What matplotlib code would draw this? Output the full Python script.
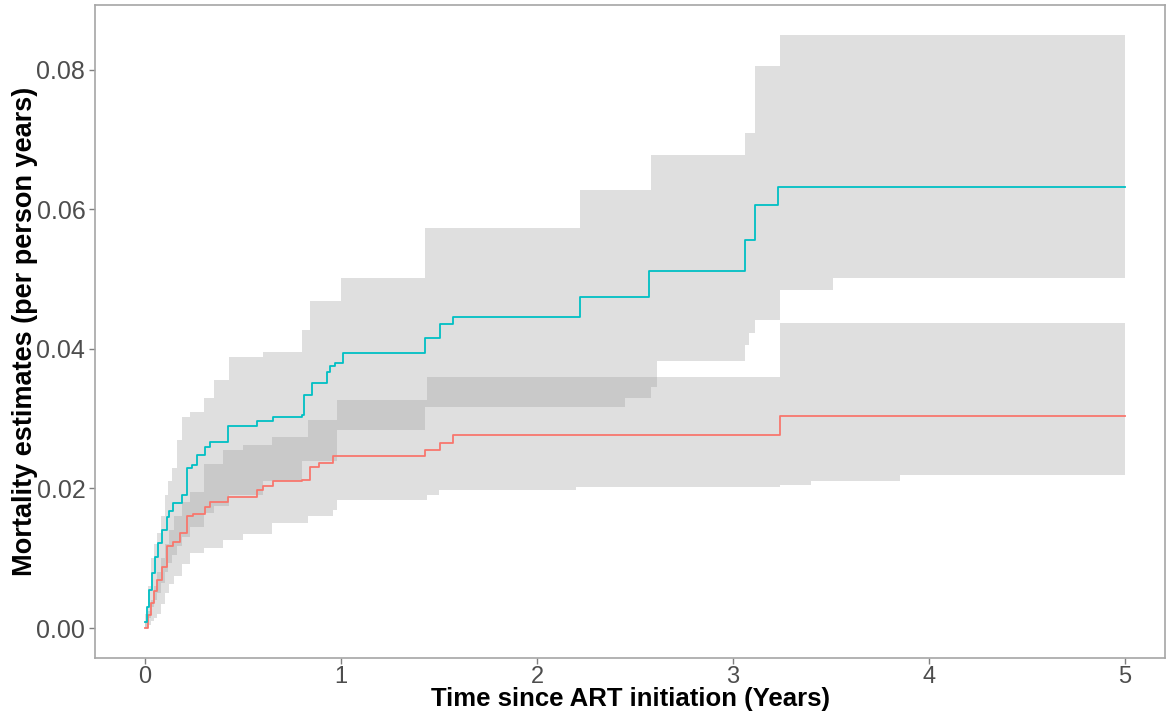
import numpy as np
import matplotlib.pyplot as plt

# Step estimates (time in years, cumulative mortality)
t_teal = [0.0, 0.01, 0.02, 0.034, 0.05, 0.066, 0.085, 0.11, 0.125, 0.143, 0.187, 0.213, 0.238, 0.264, 0.306, 0.332, 0.423,
          0.57, 0.653, 0.80, 0.81, 0.85, 0.927, 0.944, 0.97, 1.01, 1.43, 1.505, 1.573,
          2.22, 2.57, 3.06, 3.11, 3.23, 5.0]
y_teal = [0.0009, 0.003, 0.0055, 0.0079, 0.0102, 0.0122, 0.0141, 0.0159, 0.0168, 0.0179, 0.019, 0.0229, 0.0234, 0.0248, 0.026, 0.0267, 0.0289,
          0.0296, 0.0303, 0.0305, 0.0334, 0.0351, 0.0367, 0.0375, 0.038, 0.0394, 0.0415, 0.0435, 0.0446,
          0.0475, 0.0511, 0.0556, 0.0606, 0.0632, 0.0632]

t_red = [0.0, 0.015, 0.03, 0.045, 0.06, 0.085, 0.11, 0.145, 0.18, 0.213, 0.245, 0.306, 0.332, 0.423, 0.57,
         0.60, 0.653, 0.80, 0.84, 0.89, 0.96, 1.43, 1.505, 1.573, 3.24, 5.0]
y_red = [0.0, 0.0018, 0.0036, 0.0053, 0.0069, 0.0088, 0.0117, 0.0124, 0.0136, 0.016, 0.0164, 0.0174, 0.0181, 0.0188, 0.0198,
         0.0203, 0.021, 0.0212, 0.0231, 0.0236, 0.0246, 0.0255, 0.0265, 0.0276, 0.0304, 0.0304]

# Confidence bands
tb_teal = [0.00, 0.015, 0.03, 0.045, 0.06, 0.08, 0.10, 0.12, 0.14, 0.165, 0.19, 0.23, 0.30, 0.35, 0.43, 0.60, 0.80, 0.84, 0.98,
           1.00, 1.43, 2.20, 2.22, 2.45, 2.58, 2.61, 3.05, 3.06, 3.08, 3.11, 3.15, 3.24, 3.51, 5.00]
lo_teal = [0.0, 0.0015, 0.003, 0.004, 0.005, 0.0065, 0.008, 0.0093, 0.0105, 0.0118, 0.013, 0.0145, 0.0165, 0.0175, 0.019, 0.021, 0.024, 0.024, 0.0284,
           0.0284, 0.0317, 0.0317, 0.0317, 0.0329, 0.0346, 0.0382, 0.0382, 0.0406, 0.0423, 0.0442, 0.0442, 0.0485, 0.0501, 0.0501]
hi_teal = [0.002, 0.006, 0.010, 0.012, 0.0136, 0.016, 0.019, 0.021, 0.023, 0.027, 0.0303, 0.031, 0.033, 0.0356, 0.0389, 0.0395, 0.0427, 0.0468, 0.0468,
           0.0502, 0.0573, 0.0573, 0.0628, 0.0628, 0.0678, 0.0678, 0.0678, 0.071, 0.071, 0.0805, 0.0805, 0.085, 0.085, 0.085]

tb_red = [0.00, 0.015, 0.03, 0.045, 0.06, 0.08, 0.10, 0.125, 0.15, 0.19, 0.23, 0.30, 0.40, 0.50, 0.65, 0.83, 0.96, 0.98,
          1.44, 1.50, 2.20, 3.24, 3.40, 3.85, 5.00]
lo_red = [0.0, 0.0005, 0.001, 0.0015, 0.002, 0.0035, 0.005, 0.0063, 0.0075, 0.0092, 0.0107, 0.0115, 0.0126, 0.0135, 0.015, 0.016, 0.0169, 0.0183,
          0.019, 0.0198, 0.0202, 0.0205, 0.021, 0.022, 0.022]
hi_red = [0.001, 0.0025, 0.004, 0.006, 0.008, 0.010, 0.012, 0.014, 0.016, 0.018, 0.0195, 0.0235, 0.0255, 0.0262, 0.0274, 0.0298, 0.0298, 0.0327,
          0.036, 0.036, 0.036, 0.0437, 0.0437, 0.0437, 0.0437]

x_ticks = [0, 1, 2, 3, 4, 5]
y_ticks = [0.00, 0.02, 0.04, 0.06, 0.08]

fig = plt.figure(figsize=(11.67, 7.13), dpi=100)
ax = fig.add_axes([0.0814, 0.0771, 0.9169, 0.916])

band_kw = dict(step='post', color='#949494', alpha=0.29, linewidth=0)
ax.fill_between(tb_teal, lo_teal, hi_teal, **band_kw)
ax.fill_between(tb_red, lo_red, hi_red, **band_kw)

ax.step(t_red, y_red, where='post', color='#F8766D', linewidth=1.3)
ax.step(t_teal, y_teal, where='post', color='#00BFC4', linewidth=1.3)

ax.set_xlim(-0.255, 5.204)
ax.set_ylim(-0.0043, 0.0893)
ax.set_xticks(x_ticks)
ax.set_xticklabels([str(v) for v in x_ticks])
ax.set_yticks(y_ticks)
ax.set_yticklabels([f'{v:.2f}' for v in y_ticks])

for lab in ax.get_xticklabels():
    lab.set_fontfamily('Liberation Sans')
    lab.set_fontsize(17)
    lab.set_color('#4D4D4D')
for lab in ax.get_yticklabels():
    lab.set_fontfamily('Liberation Sans')
    lab.set_fontsize(18)
    lab.set_color('#4D4D4D')
ax.tick_params(length=4, width=1, color='#7F7F7F', pad=3)
ax.tick_params(axis='x', pad=2)

for sp in ax.spines.values():
    sp.set_color('#A6A6A6')
    sp.set_linewidth(1.2)

ax.set_xlabel('Time since ART initiation (Years)', labelpad=-1,
              family='Liberation Sans', weight='bold', size=18.5, color='black')
ax.set_ylabel('Mortality estimates (per person years)', labelpad=-1,
              family='Liberation Sans', weight='bold', size=19.5, color='black')

fig.savefig('out.png', dpi=100)
